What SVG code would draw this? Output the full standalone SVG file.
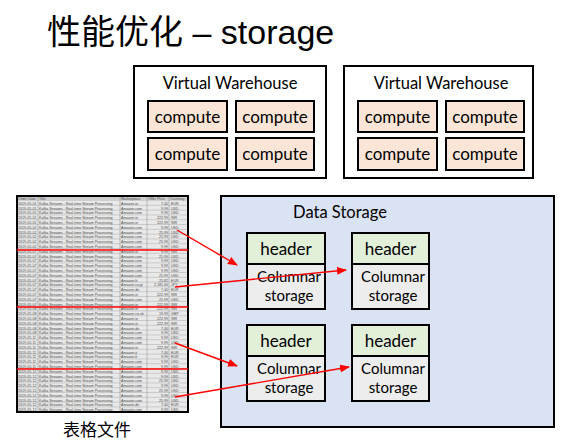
<svg xmlns="http://www.w3.org/2000/svg" width="571" height="441" viewBox="0 0 571 441">
<style>
.t{font-family:"Liberation Sans","Noto Sans CJK SC",sans-serif;fill:#000}
.lbl{font-family:Lato,"Open Sans",sans-serif;fill:#000;text-anchor:middle}
.box{stroke:#000;stroke-width:2}
.vw{fill:#fff}
.cp{fill:#fbe5d6}
.hd{fill:#e2efd9}
.col{fill:#ededed}
.ds{fill:#dae3f3}
.r{font-family:"Liberation Sans",sans-serif;font-size:3.6px;fill:#4a4a4a}
.n{text-anchor:end}
.red{stroke:#f00;stroke-width:1.6;fill:none}
.arr{stroke:#f00;stroke-width:1.4;fill:none;marker-end:url(#ah)}
</style>
<defs>
<marker id="ah" markerUnits="userSpaceOnUse" markerWidth="10" markerHeight="8" refX="9" refY="4" orient="auto">
<path d="M0,0 L10,4 L0,8 z" fill="#f00"/>
</marker>
<pattern id="rows" patternUnits="userSpaceOnUse" x="0" y="201" width="10" height="4.8">
<rect width="10" height="4.8" fill="#e9e9e9"/>
<rect y="4.2" width="10" height="0.6" fill="#b5b5b5"/>
</pattern>
</defs>
<rect width="571" height="441" fill="#fff"/>
<text class="t" x="47" y="44" font-size="34">性能优化 – storage</text>

<g id="vw1">
<rect class="box vw" x="134" y="66" width="192" height="112"/>
<text class="lbl" x="230" y="89" font-size="16.5">Virtual Warehouse</text>
<g id="vw1-c1"><rect class="box cp" x="148" y="101" width="79" height="31"/><text class="lbl" x="187.5" y="123" font-size="17">compute</text></g>
<g id="vw1-c2"><rect class="box cp" x="236" y="101" width="78" height="31"/><text class="lbl" x="275" y="123" font-size="17">compute</text></g>
<g id="vw1-c3"><rect class="box cp" x="148" y="138" width="79" height="32"/><text class="lbl" x="187.5" y="160" font-size="17">compute</text></g>
<g id="vw1-c4"><rect class="box cp" x="236" y="138" width="78" height="32"/><text class="lbl" x="275" y="160" font-size="17">compute</text></g>
</g>

<g id="vw2">
<rect class="box vw" x="344" y="66" width="189" height="112"/>
<text class="lbl" x="441" y="89" font-size="16.5">Virtual Warehouse</text>
<g id="vw2-c1"><rect class="box cp" x="358" y="101" width="79" height="31"/><text class="lbl" x="397.5" y="123" font-size="17">compute</text></g>
<g id="vw2-c2"><rect class="box cp" x="446" y="101" width="78" height="31"/><text class="lbl" x="485" y="123" font-size="17">compute</text></g>
<g id="vw2-c3"><rect class="box cp" x="358" y="138" width="79" height="32"/><text class="lbl" x="397.5" y="160" font-size="17">compute</text></g>
<g id="vw2-c4"><rect class="box cp" x="446" y="138" width="78" height="32"/><text class="lbl" x="485" y="160" font-size="17">compute</text></g>
</g>

<g id="datastorage">
<rect class="box ds" x="221" y="196" width="333" height="231"/>
<text class="lbl" x="340" y="218" font-size="16.5">Data Storage</text>
<g id="blk1">
<rect class="box hd" x="247" y="233" width="78" height="31"/>
<rect class="box col" x="247" y="264" width="78" height="45"/>
<text class="lbl" x="286" y="255" font-size="17">header</text>
<text class="lbl" x="289" y="282" font-size="15">Columnar</text>
<text class="lbl" x="289" y="301" font-size="15">storage</text>
</g>
<g id="blk2">
<rect class="box hd" x="352" y="233" width="77" height="31"/>
<rect class="box col" x="352" y="264" width="77" height="45"/>
<text class="lbl" x="390.5" y="255" font-size="17">header</text>
<text class="lbl" x="393" y="282" font-size="15">Columnar</text>
<text class="lbl" x="393" y="301" font-size="15">storage</text>
</g>
<g id="blk3">
<rect class="box hd" x="247" y="325" width="78" height="31"/>
<rect class="box col" x="247" y="356" width="78" height="45"/>
<text class="lbl" x="286" y="347" font-size="17">header</text>
<text class="lbl" x="289" y="374" font-size="15">Columnar</text>
<text class="lbl" x="289" y="393" font-size="15">storage</text>
</g>
<g id="blk4">
<rect class="box hd" x="352" y="325" width="77" height="31"/>
<rect class="box col" x="352" y="356" width="77" height="45"/>
<text class="lbl" x="390.5" y="347" font-size="17">header</text>
<text class="lbl" x="393" y="374" font-size="15">Columnar</text>
<text class="lbl" x="393" y="393" font-size="15">storage</text>
</g>
</g>

<g id="table">
<rect x="17" y="196" width="171" height="216" fill="url(#rows)"/>
<rect x="17" y="196" width="171" height="5" fill="#cfcfcf"/>
<g stroke="#9a9a9a" stroke-width="0.6">
<line x1="38" y1="196" x2="38" y2="412"/>
<line x1="120" y1="196" x2="120" y2="412"/>
<line x1="147" y1="196" x2="147" y2="412"/>
<line x1="169" y1="196" x2="169" y2="412"/>
</g>
<text class="r" y="200.2"><tspan x="18">Order Date</tspan><tspan x="39">Title</tspan><tspan x="121">Marketplace</tspan><tspan x="148">Offer Price</tspan><tspan x="170">Currency</tspan></text>
<text class="r" y="204.7"><tspan x="18">2019-05-01</tspan><tspan x="39">Kafka Streams - Real-time Stream Processing</tspan><tspan x="121">Amazon.in</tspan><tspan x="168" class="n">7.40</tspan><tspan x="171">EUR</tspan></text>
<text class="r" y="209.5"><tspan x="18">2019-05-01</tspan><tspan x="39">Kafka Streams - Real-time Stream Processing</tspan><tspan x="121">Amazon.com</tspan><tspan x="168" class="n">9.99</tspan><tspan x="171">USD</tspan></text>
<text class="r" y="214.3"><tspan x="18">2019-05-01</tspan><tspan x="39">Kafka Streams - Real-time Stream Processing</tspan><tspan x="121">Amazon.com</tspan><tspan x="168" class="n">9.99</tspan><tspan x="171">USD</tspan></text>
<text class="r" y="219.1"><tspan x="18">2019-05-01</tspan><tspan x="39">Kafka Streams - Real-time Stream Processing</tspan><tspan x="121">Amazon.in</tspan><tspan x="168" class="n">222.99</tspan><tspan x="171">INR</tspan></text>
<text class="r" y="223.9"><tspan x="18">2019-05-01</tspan><tspan x="39">Kafka Streams - Real-time Stream Processing</tspan><tspan x="121">Amazon.in</tspan><tspan x="168" class="n">222.99</tspan><tspan x="171">INR</tspan></text>
<text class="r" y="228.7"><tspan x="18">2019-05-02</tspan><tspan x="39">Kafka Streams - Real-time Stream Processing</tspan><tspan x="121">Amazon.com</tspan><tspan x="168" class="n">9.99</tspan><tspan x="171">USD</tspan></text>
<text class="r" y="233.5"><tspan x="18">2019-05-02</tspan><tspan x="39">Kafka Streams - Real-time Stream Processing</tspan><tspan x="121">Amazon.com</tspan><tspan x="168" class="n">25.99</tspan><tspan x="171">USD</tspan></text>
<text class="r" y="238.3"><tspan x="18">2019-05-02</tspan><tspan x="39">Kafka Streams - Real-time Stream Processing</tspan><tspan x="121">Amazon.com</tspan><tspan x="168" class="n">25.99</tspan><tspan x="171">USD</tspan></text>
<text class="r" y="243.1"><tspan x="18">2019-05-02</tspan><tspan x="39">Kafka Streams - Real-time Stream Processing</tspan><tspan x="121">Amazon.com</tspan><tspan x="168" class="n">25.99</tspan><tspan x="171">USD</tspan></text>
<text class="r" y="247.9"><tspan x="18">2019-05-02</tspan><tspan x="39">Kafka Streams - Real-time Stream Processing</tspan><tspan x="121">Amazon.com</tspan><tspan x="168" class="n">9.99</tspan><tspan x="171">USD</tspan></text>
<text class="r" y="252.7"><tspan x="18">2019-05-07</tspan><tspan x="39">Kafka Streams - Real-time Stream Processing</tspan><tspan x="121">Amazon.in</tspan><tspan x="168" class="n">9.99</tspan><tspan x="171">INR</tspan></text>
<text class="r" y="257.5"><tspan x="18">2019-05-07</tspan><tspan x="39">Kafka Streams - Real-time Stream Processing</tspan><tspan x="121">Amazon.com</tspan><tspan x="168" class="n">25.99</tspan><tspan x="171">USD</tspan></text>
<text class="r" y="262.3"><tspan x="18">2019-05-07</tspan><tspan x="39">Kafka Streams - Real-time Stream Processing</tspan><tspan x="121">Amazon.com</tspan><tspan x="168" class="n">9.99</tspan><tspan x="171">USD</tspan></text>
<text class="r" y="267.1"><tspan x="18">2019-05-07</tspan><tspan x="39">Kafka Streams - Real-time Stream Processing</tspan><tspan x="121">Amazon.com</tspan><tspan x="168" class="n">9.99</tspan><tspan x="171">USD</tspan></text>
<text class="r" y="271.9"><tspan x="18">2019-05-07</tspan><tspan x="39">Kafka Streams - Real-time Stream Processing</tspan><tspan x="121">Amazon.com</tspan><tspan x="168" class="n">9.99</tspan><tspan x="171">USD</tspan></text>
<text class="r" y="276.7"><tspan x="18">2019-05-07</tspan><tspan x="39">Kafka Streams - Real-time Stream Processing</tspan><tspan x="121">Amazon.com</tspan><tspan x="168" class="n">25.99</tspan><tspan x="171">USD</tspan></text>
<text class="r" y="281.5"><tspan x="18">2019-05-07</tspan><tspan x="39">Kafka Streams - Real-time Stream Processing</tspan><tspan x="121">Amazon.fr</tspan><tspan x="168" class="n">25.82</tspan><tspan x="171">EUR</tspan></text>
<text class="r" y="286.3"><tspan x="18">2019-05-07</tspan><tspan x="39">Kafka Streams - Real-time Stream Processing</tspan><tspan x="121">Amazon.co.jp</tspan><tspan x="168" class="n">2,181.00</tspan><tspan x="171">JPY</tspan></text>
<text class="r" y="291.1"><tspan x="18">2019-05-07</tspan><tspan x="39">Kafka Streams - Real-time Stream Processing</tspan><tspan x="121">Amazon.de</tspan><tspan x="168" class="n">7.40</tspan><tspan x="171">EUR</tspan></text>
<text class="r" y="295.9"><tspan x="18">2019-05-07</tspan><tspan x="39">Kafka Streams - Real-time Stream Processing</tspan><tspan x="121">Amazon.in</tspan><tspan x="168" class="n">222.99</tspan><tspan x="171">INR</tspan></text>
<text class="r" y="300.7"><tspan x="18">2019-05-07</tspan><tspan x="39">Kafka Streams - Real-time Stream Processing</tspan><tspan x="121">Amazon.com</tspan><tspan x="168" class="n">25.99</tspan><tspan x="171">USD</tspan></text>
<text class="r" y="305.5"><tspan x="18">2019-05-07</tspan><tspan x="39">Kafka Streams - Real-time Stream Processing</tspan><tspan x="121">Amazon.in</tspan><tspan x="168" class="n">222.99</tspan><tspan x="171">INR</tspan></text>
<text class="r" y="310.3"><tspan x="18">2019-05-08</tspan><tspan x="39">Kafka Streams - Real-time Stream Processing</tspan><tspan x="121">Amazon.in</tspan><tspan x="168" class="n">222.99</tspan><tspan x="171">INR</tspan></text>
<text class="r" y="315.1"><tspan x="18">2019-05-08</tspan><tspan x="39">Kafka Streams - Real-time Stream Processing</tspan><tspan x="121">Amazon.co.uk</tspan><tspan x="168" class="n">19.99</tspan><tspan x="171">GBP</tspan></text>
<text class="r" y="319.9"><tspan x="18">2019-05-08</tspan><tspan x="39">Kafka Streams - Real-time Stream Processing</tspan><tspan x="121">Amazon.in</tspan><tspan x="168" class="n">222.99</tspan><tspan x="171">INR</tspan></text>
<text class="r" y="324.7"><tspan x="18">2019-05-08</tspan><tspan x="39">Kafka Streams - Real-time Stream Processing</tspan><tspan x="121">Amazon.in</tspan><tspan x="168" class="n">222.99</tspan><tspan x="171">INR</tspan></text>
<text class="r" y="329.5"><tspan x="18">2019-05-08</tspan><tspan x="39">Kafka Streams - Real-time Stream Processing</tspan><tspan x="121">Amazon.de</tspan><tspan x="168" class="n">7.40</tspan><tspan x="171">EUR</tspan></text>
<text class="r" y="334.3"><tspan x="18">2019-05-08</tspan><tspan x="39">Kafka Streams - Real-time Stream Processing</tspan><tspan x="121">Amazon.com</tspan><tspan x="168" class="n">9.99</tspan><tspan x="171">USD</tspan></text>
<text class="r" y="339.1"><tspan x="18">2019-05-11</tspan><tspan x="39">Kafka Streams - Real-time Stream Processing</tspan><tspan x="121">Amazon.com</tspan><tspan x="168" class="n">9.99</tspan><tspan x="171">USD</tspan></text>
<text class="r" y="343.9"><tspan x="18">2019-05-11</tspan><tspan x="39">Kafka Streams - Real-time Stream Processing</tspan><tspan x="121">Amazon.com</tspan><tspan x="168" class="n">9.99</tspan><tspan x="171">USD</tspan></text>
<text class="r" y="348.7"><tspan x="18">2019-05-11</tspan><tspan x="39">Kafka Streams - Real-time Stream Processing</tspan><tspan x="121">Amazon.in</tspan><tspan x="168" class="n">222.99</tspan><tspan x="171">INR</tspan></text>
<text class="r" y="353.5"><tspan x="18">2019-05-11</tspan><tspan x="39">Kafka Streams - Real-time Stream Processing</tspan><tspan x="121">Amazon.it</tspan><tspan x="168" class="n">7.40</tspan><tspan x="171">EUR</tspan></text>
<text class="r" y="358.3"><tspan x="18">2019-05-11</tspan><tspan x="39">Kafka Streams - Real-time Stream Processing</tspan><tspan x="121">Amazon.fr</tspan><tspan x="168" class="n">9.99</tspan><tspan x="171">EUR</tspan></text>
<text class="r" y="363.1"><tspan x="18">2019-05-11</tspan><tspan x="39">Kafka Streams - Real-time Stream Processing</tspan><tspan x="121">Amazon.com</tspan><tspan x="168" class="n">9.99</tspan><tspan x="171">USD</tspan></text>
<text class="r" y="367.9"><tspan x="18">2019-05-11</tspan><tspan x="39">Kafka Streams - Real-time Stream Processing</tspan><tspan x="121">Amazon.com</tspan><tspan x="168" class="n">9.99</tspan><tspan x="171">USD</tspan></text>
<text class="r" y="372.7"><tspan x="18">2019-05-12</tspan><tspan x="39">Kafka Streams - Real-time Stream Processing</tspan><tspan x="121">Amazon.com</tspan><tspan x="168" class="n">9.99</tspan><tspan x="171">USD</tspan></text>
<text class="r" y="377.5"><tspan x="18">2019-05-12</tspan><tspan x="39">Kafka Streams - Real-time Stream Processing</tspan><tspan x="121">Amazon.com</tspan><tspan x="168" class="n">9.99</tspan><tspan x="171">USD</tspan></text>
<text class="r" y="382.3"><tspan x="18">2019-05-12</tspan><tspan x="39">Kafka Streams - Real-time Stream Processing</tspan><tspan x="121">Amazon.com</tspan><tspan x="168" class="n">25.99</tspan><tspan x="171">USD</tspan></text>
<text class="r" y="387.1"><tspan x="18">2019-05-12</tspan><tspan x="39">Kafka Streams - Real-time Stream Processing</tspan><tspan x="121">Amazon.com</tspan><tspan x="168" class="n">9.99</tspan><tspan x="171">USD</tspan></text>
<text class="r" y="391.9"><tspan x="18">2019-05-12</tspan><tspan x="39">Kafka Streams - Real-time Stream Processing</tspan><tspan x="121">Amazon.com</tspan><tspan x="168" class="n">25.99</tspan><tspan x="171">USD</tspan></text>
<text class="r" y="396.7"><tspan x="18">2019-05-12</tspan><tspan x="39">Kafka Streams - Real-time Stream Processing</tspan><tspan x="121">Amazon.com</tspan><tspan x="168" class="n">9.99</tspan><tspan x="171">USD</tspan></text>
<text class="r" y="401.5"><tspan x="18">2019-05-12</tspan><tspan x="39">Kafka Streams - Real-time Stream Processing</tspan><tspan x="121">Amazon.com</tspan><tspan x="168" class="n">25.99</tspan><tspan x="171">USD</tspan></text>
<text class="r" y="406.3"><tspan x="18">2019-05-12</tspan><tspan x="39">Kafka Streams - Real-time Stream Processing</tspan><tspan x="121">Amazon.de</tspan><tspan x="168" class="n">7.40</tspan><tspan x="171">EUR</tspan></text>
<text class="r" y="411.1"><tspan x="18">2019-05-12</tspan><tspan x="39">Kafka Streams - Real-time Stream Processing</tspan><tspan x="121">Amazon.com</tspan><tspan x="168" class="n">9.99</tspan><tspan x="171">USD</tspan></text>
<rect x="17" y="196" width="171" height="216" fill="none" stroke="#000" stroke-width="2"/>
<line class="red" x1="17" y1="250" x2="188" y2="250"/>
<line class="red" x1="17" y1="307" x2="188" y2="307"/>
<line class="red" x1="17" y1="369" x2="188" y2="369"/>
</g>
<text class="t" x="97" y="436" font-size="17" text-anchor="middle">表格文件</text>

<g id="connectors">
<line class="arr" x1="177" y1="230" x2="237" y2="265"/>
<line class="arr" x1="175" y1="287" x2="346" y2="270"/>
<line class="arr" x1="175" y1="343" x2="237" y2="366"/>
<line class="arr" x1="175" y1="397" x2="349" y2="367"/>
</g>
</svg>
